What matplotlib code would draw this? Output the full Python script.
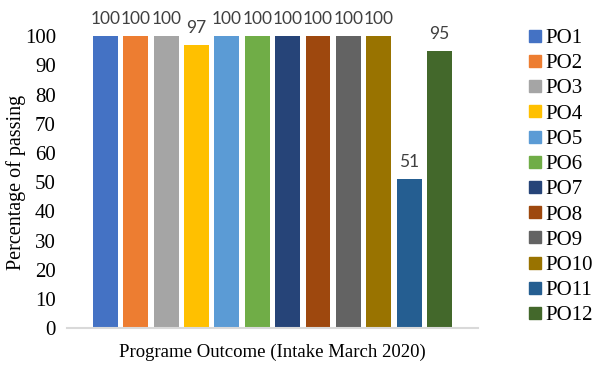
import matplotlib.pyplot as plt
from matplotlib.lines import Line2D

# data
labels = ['PO1', 'PO2', 'PO3', 'PO4', 'PO5', 'PO6',
          'PO7', 'PO8', 'PO9', 'PO10', 'PO11', 'PO12']
values = [100, 100, 100, 97, 100, 100, 100, 100, 100, 100, 51, 95]
colors = ['#4472C4', '#ED7D31', '#A5A5A5', '#FFC000', '#5B9BD5', '#70AD47',
          '#264478', '#9E480E', '#636363', '#997300', '#255E91', '#43682B']

serif = 'Liberation Serif'

fig = plt.figure(figsize=(5.95, 3.65), dpi=100)
ax = fig.add_axes([0.1126, 0.101, 0.6905, 0.80])

x = list(range(len(values)))
bars = ax.bar(x, values, width=0.82, color=colors)
for xi, v in zip(x, values):
    ax.text(xi, v + 3, str(v), ha='center', va='bottom',
            fontsize=12.5, color='#404040', family='Lato')

ax.set_xlim(-1.265, 12.265)
ax.set_ylim(0, 100)
ax.set_yticks(range(0, 101, 10))
ax.set_xticks([])
for lab in ax.get_yticklabels():
    lab.set_fontfamily(serif)
    lab.set_fontsize(15)
ax.tick_params(axis='y', length=0, pad=8)
for s in ['top', 'right', 'left']:
    ax.spines[s].set_visible(False)
ax.spines['bottom'].set_color('#d9d9d9')
ax.spines['bottom'].set_linewidth(1.5)

ax.set_ylabel('Percentage of passing', fontsize=14.5, family=serif)
ax.yaxis.set_label_coords(-0.10, 0.5)
ax.set_xlabel('Programe Outcome (Intake March 2020)', fontsize=13.5,
              family=serif, labelpad=11)

handles = [Line2D([], [], marker='s', linestyle='none', markersize=8,
                  markerfacecolor=c, markeredgecolor=c) for c in colors]
fig.legend(handles, labels, loc='upper left', bbox_to_anchor=(0.889, 0.922),
           frameon=False, prop={'family': serif, 'size': 15},
           handlelength=0.6, handletextpad=0.2, labelspacing=0.27,
           borderaxespad=0, borderpad=0)

fig.savefig('out.png', dpi=100)
